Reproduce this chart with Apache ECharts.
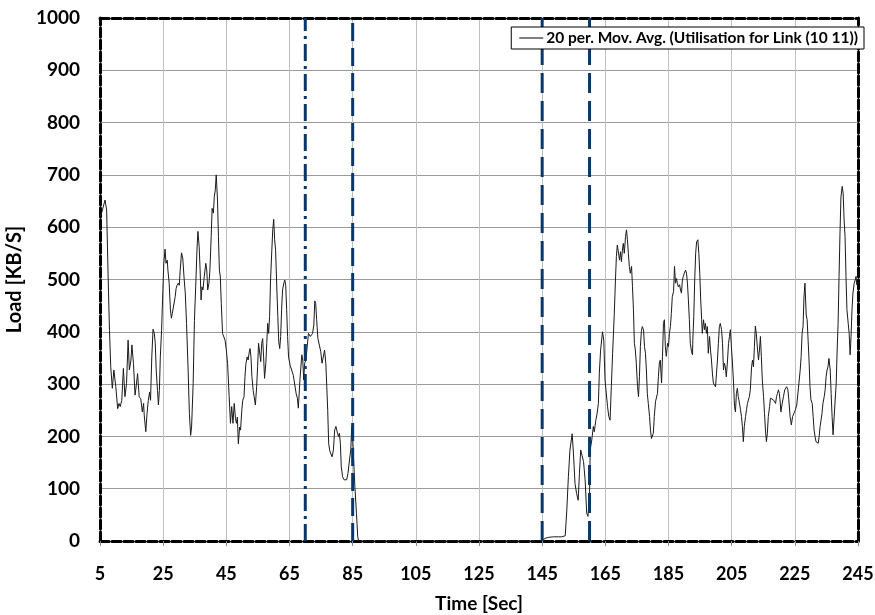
<!DOCTYPE html>
<html>
<head>
<meta charset="utf-8">
<script src="https://cdn.jsdelivr.net/npm/echarts@6/dist/echarts.min.js"></script>
<style>
  html, body { margin: 0; padding: 0; background: #ffffff; }
  #chart { width: 875px; height: 615px; }
</style>
</head>
<body>
<div id="chart"></div>
<script>
// 20-period moving average of link (10 11) utilisation, sampled in seconds
const timeSec = [
  5.0, 5.5, 6.1, 6.6, 7.1, 7.6, 8.0, 8.4, 8.9, 9.4, 10.0, 10.6, 11.0, 11.4, 11.9, 12.4, 12.9, 13.4, 13.9, 14.3,
  14.8, 15.1, 15.6, 16.1, 16.5, 16.9, 17.4, 17.9, 18.4, 18.8, 19.0, 19.5, 19.9, 20.3, 20.7, 21.0, 21.4, 21.8, 22.2, 22.5,
  22.8, 23.2, 23.5, 23.8, 24.1, 24.5, 24.8, 25.2, 25.6, 25.9, 26.3, 26.5, 26.9, 27.3, 27.6, 27.9, 28.3, 28.8, 29.1, 29.4,
  29.8, 30.1, 30.4, 30.8, 31.2, 31.6, 32.0, 32.4, 32.9, 33.3, 33.7, 34.0, 34.5, 34.9, 35.3, 35.7, 36.0,
  36.4, 36.7, 37.0, 37.3, 37.6, 38.0, 38.5, 38.8, 39.1, 39.5, 39.8, 40.2, 40.5, 40.9, 41.2, 41.5, 41.8, 42.2, 42.5, 42.8,
  43.1, 43.4, 43.8, 44.2, 44.6, 45.0, 45.4, 45.9, 46.3, 46.7, 47.1, 47.5, 47.9, 48.2, 48.5, 48.8, 49.2, 49.5, 49.9, 50.2,
  50.6, 50.9, 51.2, 51.6, 51.9, 52.2, 52.5, 52.8, 53.1, 53.5, 53.8, 54.2, 54.6, 54.9, 55.2, 55.6, 55.9, 56.2, 56.5, 56.8,
  57.1, 57.5, 57.8, 58.1, 58.4, 58.7, 59.0, 59.4, 59.7, 60.0, 60.3, 60.6, 60.9, 61.3, 61.6, 61.9, 62.2, 62.5, 62.8, 63.2,
  63.5, 63.8, 64.1, 64.4, 64.7,
  65.2, 65.7, 66.2, 66.6, 67.1, 67.5, 67.8, 68.3, 68.9, 69.2, 69.5, 69.8, 70.2, 70.7, 71.0, 71.3, 71.6, 72.0, 72.3, 72.7,
  73.0, 73.3, 73.6, 74.0, 74.5, 74.9, 75.3, 75.7, 76.1, 76.5, 76.8, 77.1, 77.4, 77.7, 78.0, 78.5, 78.9, 79.3, 79.7, 80.2,
  80.5, 80.8, 81.1, 81.4, 81.8, 82.3, 82.7, 83.1, 83.5, 84.0, 84.4, 84.7, 85.0, 85.3, 85.7, 86.2, 86.6, 86.9,
  87.0, 145.0,
  145.1, 145.9, 147.0, 148.6, 150.1, 151.2, 152.3, 152.8, 153.3, 153.8, 154.5, 154.9, 155.4, 155.9, 156.4, 156.8, 157.2, 157.6, 158.1, 158.6,
  159.1, 159.5, 160.0,
  160.2, 160.7, 161.2, 161.5, 162.0, 162.4, 162.8, 163.1, 163.5, 164.1, 164.5, 164.9, 165.2, 165.7, 166.1, 166.5, 166.9, 167.3, 167.8, 168.2,
  168.5, 168.8, 169.1, 169.5, 169.8, 170.1, 170.4, 170.7, 171.0, 171.4, 171.7, 172.0, 172.3, 172.6, 172.9, 173.3, 173.6, 173.9, 174.2, 174.5,
  174.8, 175.2, 175.5, 175.8, 176.1, 176.4, 176.7, 177.1, 177.4, 177.7, 178.0, 178.3, 178.6, 179.0, 179.3, 179.6, 179.9, 180.2, 180.5, 180.9,
  181.2, 181.5, 181.8, 182.1, 182.4, 182.8, 183.1, 183.4, 183.7, 184.0, 184.3, 184.7, 185.0, 185.3, 185.6, 185.9, 186.2, 186.6, 186.9, 187.2,
  187.5, 187.8, 188.1, 188.5, 188.8, 189.1, 189.4, 189.7, 190.0, 190.4, 190.7, 191.0, 191.3, 191.6, 191.9, 192.3, 192.6,
  192.7, 193.0, 193.3, 193.6, 193.9, 194.3, 194.6, 194.9, 195.2, 195.5, 195.7, 196.1, 196.4, 196.7, 197.0, 197.3, 197.6, 198.0, 198.3, 198.6,
  198.9, 199.2, 199.5, 199.9, 200.2, 200.5, 200.8, 201.1, 201.4, 201.8, 202.1, 202.4, 202.7, 203.0, 203.3, 203.7, 204.0, 204.3, 204.6, 204.9,
  205.2, 205.6, 205.9, 206.2, 206.5, 206.8, 207.1, 207.5, 207.8, 208.1, 208.4, 208.7, 209.0, 209.4, 209.7, 210.0, 210.3, 210.6, 210.9, 211.3,
  211.6, 211.9, 212.2, 212.5, 212.8, 213.2, 213.5, 213.8, 214.1, 214.4, 214.7, 215.1, 215.4, 215.7, 216.0, 216.3, 216.6, 217.0, 217.3, 217.6,
  217.9, 218.2, 218.5, 218.9, 219.2, 219.5, 219.8, 220.1,
  220.3, 220.6, 221.0, 221.4, 221.8, 222.1, 222.4, 222.8, 223.1, 223.5, 223.9, 224.3, 224.8, 225.2, 225.6, 226.0, 226.3, 226.7, 227.0, 227.3,
  227.6, 227.9, 228.2, 228.6, 228.9, 229.2, 229.5, 229.8, 230.1, 230.5, 230.8, 231.1, 231.4, 231.7, 232.0, 232.4, 232.7, 233.0, 233.3, 233.6,
  233.9, 234.3, 234.6, 234.9, 235.2, 235.5, 235.8, 236.2, 236.5, 236.8, 237.1, 237.4, 237.7, 238.1, 238.4, 238.7, 239.0, 239.3, 239.6, 240.0,
  240.3, 240.6, 240.9, 241.2, 241.5, 241.9, 242.2, 242.5, 242.8, 243.1, 243.4, 243.8, 244.1, 244.4, 244.6, 245.0
];

const loadKBs = [
  620, 627, 630, 652, 633, 499, 403, 333, 292, 327, 295, 253, 263, 257, 269, 330, 276, 301, 384, 327,
  346, 375, 339, 279, 298, 320, 276, 272, 247, 263, 241, 209, 244, 269, 285, 269, 352, 405, 397, 378,
  327, 288, 260, 288, 352, 403, 461, 531, 558, 531, 537, 518, 493, 442, 426, 435, 438, 467, 483, 489,
  493, 489, 518, 551, 541, 505, 474, 416, 327, 244, 202, 218, 301, 422, 486, 556, 592,
  563, 518, 461, 486, 480, 505, 531, 518, 480, 493, 518, 582, 636, 627, 659, 671, 700, 652, 582, 518,
  505, 454, 397, 400, 384, 365, 339, 276, 225, 257, 225, 263, 234, 225, 237, 186, 218, 212, 250, 269,
  276, 314, 339, 352, 346, 359, 368, 352, 314, 288, 276, 260, 295, 333, 378, 381, 343, 378, 387, 352,
  311, 339, 378, 416, 397, 429, 499, 556, 595, 615, 576, 556, 499, 429, 381, 368, 391, 442, 480, 493,
  499, 489, 442, 391, 352,
  336, 333, 317, 314, 282, 273, 254, 308, 356, 346, 308, 340, 346, 343, 397, 394, 391, 391, 397, 413,
  459, 454, 423, 387, 384, 362, 340, 352, 365, 340, 295, 250, 187, 174, 168, 161, 174, 212, 219, 206,
  200, 206, 187, 142, 123, 117, 120, 117, 129, 155, 174, 219, 200, 155, 104, 53, 8, 0,
  0, 0,
  2, 5, 7, 8, 8, 8, 10, 59, 123, 174, 205, 168, 110, 91, 78, 129, 174, 171, 152, 117,
  53, 47, 91,
  174, 193, 219, 209, 231, 244, 263, 321, 365, 400, 384, 308, 289, 257, 238, 231, 295, 359, 429, 499,
  544, 566, 563, 537, 553, 534, 556, 569, 550, 582, 595, 576, 550, 525, 512, 525, 486, 442, 378, 365,
  340, 295, 276, 314, 372, 400, 410, 404, 372, 359, 327, 282, 263, 238, 212, 196, 193, 206, 238, 267,
  267, 282, 314, 340, 346, 302, 353, 416, 423, 372, 353, 378, 372, 397, 410, 435, 467, 477, 525, 493,
  502, 493, 486, 490, 480, 474, 499, 506, 512, 518, 512, 493, 461, 423, 378, 362, 356,
  384, 429, 499, 550, 572, 576, 550, 512, 461, 423, 397, 423, 404, 416, 397, 410, 359, 391, 365, 346,
  321, 302, 302, 295, 321, 346, 378, 410, 416, 404, 378, 327, 340, 333, 314, 346, 378, 391, 404, 372,
  346, 302, 257, 247, 282, 292, 276, 276, 251, 238, 219, 190, 219, 238, 251, 263, 260, 276, 289, 333,
  346, 333, 372, 411, 397, 365, 346, 365, 391, 353, 308, 276, 244, 212, 190, 206, 238, 257, 273, 270,
  273, 270, 267, 263, 276, 282, 289, 282,
  270, 247, 263, 276, 289, 292, 295, 289, 270, 238, 222, 238, 238, 251, 260, 257, 302, 327, 353, 397,
  410, 467, 493, 432, 423, 384, 346, 295, 270, 263, 238, 212, 200, 190, 190, 187, 200, 219, 231, 244,
  263, 276, 289, 314, 327, 333, 349, 327, 282, 238, 203, 200, 206, 302, 365, 416, 506, 588, 658, 678,
  665, 614, 582, 506, 442, 416, 397, 356, 391, 442, 474, 493, 499, 506, 490, 495
];

// x-axis tick labels (seconds) and y-axis range
const xTickLabels = [5, 25, 45, 65, 85, 105, 125, 145, 165, 185, 205, 225, 245];
const yMin = 0, yMax = 1000, yStep = 100;

// phase boundaries drawn as vertical markers
const markerTimes = [70, 85, 145, 160];
const markerDash = [[17, 5, 3, 5], [18, 7], [20, 8], [20, 8]];

const seriesName = '20 per. Mov. Avg. (Utilisation for Link (10 11))';

// The time axis starts at 5 s; ticks run every 20 s from there, so the
// axis works in seconds-since-start and labels add the start back on.
const T0 = xTickLabels[0];
const xSpan = xTickLabels[xTickLabels.length - 1] - T0;
const xStep = xTickLabels[1] - xTickLabels[0];

const lineData = timeSec.map((t, i) => [t - T0, loadKBs[i]]);

const FONT = 'Lato, "Open Sans", sans-serif';
const borderStyle = { color: '#000', width: 3, type: [9, 3] };

const markerSeries = markerTimes.map((t, i) => ({
  type: 'line',
  name: 'marker' + t,
  data: [[t - T0, yMin], [t - T0, yMax]],
  symbol: 'none',
  silent: true,
  z: 3,
  animation: false,
  lineStyle: { color: '#0b3768', width: 3, type: markerDash[i] }
}));

const chart = echarts.init(document.getElementById('chart'), null, { renderer: 'canvas' });
chart.setOption({
  animation: false,
  backgroundColor: '#fff',
  grid: { left: 100, right: 17, top: 18, bottom: 74, containLabel: false, outerBoundsMode: 'none' },
  legend: {
    data: [{ name: seriesName, icon: 'rect' }],
    right: 11,
    top: 27,
    padding: [3, 6, 3, 8],
    itemWidth: 24,
    itemHeight: 1,
    itemGap: 4,
    itemStyle: { color: '#000' },
    backgroundColor: '#fff',
    borderColor: '#000',
    borderWidth: 1,
    borderRadius: 0,
    textStyle: { fontFamily: FONT, fontWeight: 'bold', fontSize: 15.5, color: '#000', padding: [0, 0, 0, -2] }
  },
  xAxis: [
    {
      type: 'value',
      min: 0, max: xSpan, interval: xStep,
      name: 'Time [Sec]',
      nameLocation: 'middle',
      nameGap: 53,
      nameTextStyle: { fontFamily: FONT, fontWeight: 'bold', fontSize: 19, color: '#000' },
      axisLine: { show: true, onZero: false, lineStyle: borderStyle },
      axisTick: { show: true, length: 5, lineStyle: { color: '#888', width: 1 } },
      axisLabel: {
        margin: 24,
        fontFamily: FONT, fontWeight: 'bold', fontSize: 18, color: '#000',
        formatter: v => String(v + T0)
      },
      splitLine: { show: true, lineStyle: { color: '#c0c0c0', width: 1 } }
    },
    {
      type: 'value', position: 'top',
      min: 0, max: xSpan, interval: xStep,
      axisLine: { show: true, onZero: false, lineStyle: borderStyle },
      axisTick: { show: false }, axisLabel: { show: false }, splitLine: { show: false }
    }
  ],
  yAxis: [
    {
      type: 'value',
      min: yMin, max: yMax, interval: yStep,
      name: 'Load [KB/S]',
      nameLocation: 'middle',
      nameGap: 55,
      nameTextStyle: { fontFamily: FONT, fontWeight: 'bold', fontSize: 20, color: '#000' },
      axisLine: { show: true, onZero: false, lineStyle: borderStyle },
      axisTick: { show: false },
      axisLabel: {
        margin: 20, fontFamily: FONT, fontWeight: 'bold', fontSize: 19, color: '#000',
        formatter: v => String(v)
      },
      splitLine: { show: true, lineStyle: { color: '#9a9a9a', width: 1 } }
    },
    {
      type: 'value', position: 'right',
      min: yMin, max: yMax, interval: yStep,
      axisLine: { show: true, onZero: false, lineStyle: borderStyle },
      axisTick: { show: false }, axisLabel: { show: false }, splitLine: { show: false }
    }
  ],
  series: [
    {
      type: 'line',
      name: seriesName,
      data: lineData,
      symbol: 'none',
      smooth: false,
      z: 2,
      lineStyle: { color: '#1a1a1a', width: 1 },
      itemStyle: { color: '#1a1a1a' }
    }
  ].concat(markerSeries)
});
</script>
</body>
</html>
